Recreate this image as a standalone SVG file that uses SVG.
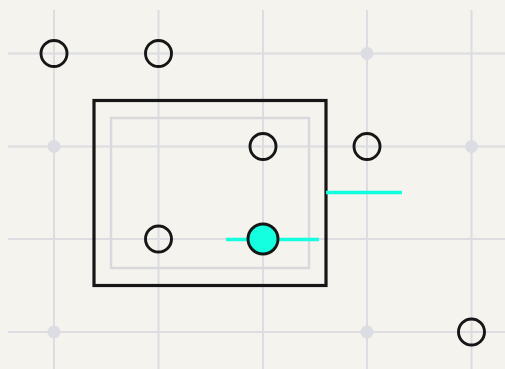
<svg xmlns="http://www.w3.org/2000/svg" width="505" height="369" viewBox="0 0 505 369">
<style>
.grid{stroke:#dcdce1;stroke-width:2;fill:none}
.dot{fill:#dcdce3}
.node{fill:none;stroke:#161616;stroke-width:2.9}
.cy{stroke:#14ffe0;stroke-width:3.5;stroke-linecap:butt}
</style>
<rect width="505" height="369" fill="#f4f3ee"/>
<g id="grid" class="grid">
<line x1="54" y1="10" x2="54" y2="369"/>
<line x1="158.5" y1="10" x2="158.5" y2="369"/>
<line x1="263" y1="10" x2="263" y2="369"/>
<line x1="367" y1="10" x2="367" y2="369"/>
<line x1="471.5" y1="10" x2="471.5" y2="369"/>
<line x1="8" y1="53.5" x2="505" y2="53.5"/>
<line x1="8" y1="146.5" x2="505" y2="146.5"/>
<line x1="8" y1="239" x2="505" y2="239"/>
<line x1="8" y1="332" x2="505" y2="332"/>
</g>
<g id="dots">
<circle class="dot" cx="367" cy="53.5" r="6.5"/>
<circle class="dot" cx="54" cy="146.5" r="6.5"/>
<circle class="dot" cx="471.5" cy="146.5" r="6.5"/>
<circle class="dot" cx="54" cy="332" r="6.5"/>
<circle class="dot" cx="367" cy="332" r="6.5"/>
</g>
<g id="frame">
<rect x="111" y="118" width="198" height="150" fill="none" stroke="#d9d9dd" stroke-width="2.5"/>
<rect x="94" y="100.5" width="232" height="185" fill="none" stroke="#161616" stroke-width="3.2"/>
</g>
<g id="connectors">
<line class="cy" x1="326" y1="192.5" x2="402" y2="192.5"/>
<line class="cy" x1="226" y1="239.5" x2="319" y2="239.5"/>
</g>
<g id="n1"><circle class="node" cx="54" cy="53.5" r="13"/></g>
<g id="n2"><circle class="node" cx="158.5" cy="53.5" r="13"/></g>
<g id="n3"><circle class="node" cx="263" cy="146.5" r="13"/></g>
<g id="n4"><circle class="node" cx="367" cy="146.5" r="13"/></g>
<g id="n5"><circle class="node" cx="158.5" cy="239" r="13"/></g>
<g id="n6"><circle cx="263" cy="239" r="15" fill="#14ffe0" stroke="#161616" stroke-width="2.9"/></g>
<g id="n7"><circle class="node" cx="471.5" cy="332" r="13"/></g>
</svg>
